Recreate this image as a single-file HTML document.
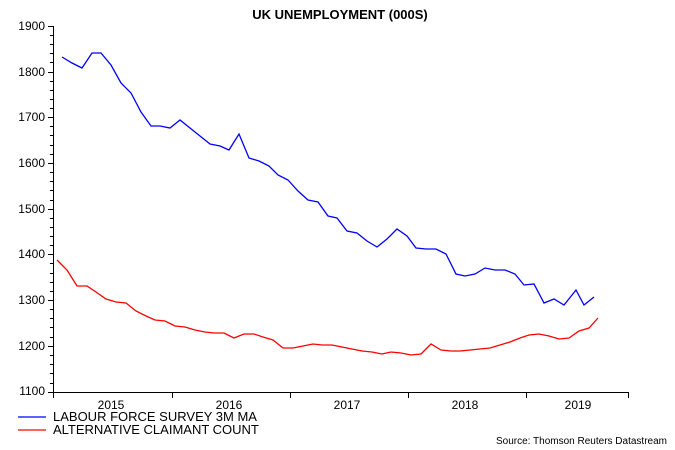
<!DOCTYPE html>
<html><head><meta charset="utf-8"><style>body{margin:0;background:#fff}svg{display:block;font-family:"Liberation Sans",Arial,sans-serif}</style></head><body>
<svg width="675" height="450" viewBox="0 0 675 450">
<text x="340" y="19" text-anchor="middle" font-size="13" font-weight="bold">UK UNEMPLOYMENT (000S)</text>
<g font-size="12" text-anchor="end">
<text x="45" y="30">1900</text><text x="45" y="76">1800</text><text x="45" y="121">1700</text><text x="45" y="167">1600</text><text x="45" y="213">1500</text><text x="45" y="258">1400</text><text x="45" y="304">1300</text><text x="45" y="350">1200</text><text x="45" y="395">1100</text>
</g>
<g stroke="#000" stroke-width="1">
<line x1="53.5" y1="26" x2="53.5" y2="393"/>
<line x1="53" y1="392.5" x2="629" y2="392.5"/>
<path d="M48 26.5h5M48 72.5h5M48 117.5h5M48 163.5h5M48 209.5h5M48 254.5h5M48 300.5h5M48 346.5h5M48 392.5h5M50 35.5h3M50 44.5h3M50 53.5h3M50 62.5h3M50 81.5h3M50 90.5h3M50 99.5h3M50 108.5h3M50 126.5h3M50 135.5h3M50 145.5h3M50 154.5h3M50 172.5h3M50 181.5h3M50 190.5h3M50 200.5h3M50 218.5h3M50 227.5h3M50 236.5h3M50 245.5h3M50 263.5h3M50 273.5h3M50 282.5h3M50 291.5h3M50 309.5h3M50 318.5h3M50 327.5h3M50 337.5h3M50 355.5h3M50 364.5h3M50 373.5h3M50 383.5h3"/>
<path d="M53.5 392v6M172.5 392v6M290.5 392v6M408.5 392v6M526.5 392v6M628.5 392v6"/>
</g>
<g font-size="12" text-anchor="middle">
<text x="111" y="409">2015</text><text x="229" y="409">2016</text><text x="347" y="409">2017</text><text x="465" y="409">2018</text><text x="578" y="409">2019</text>
</g>
<polyline fill="none" stroke="#0000ff" stroke-width="1.3" points="62,57 72,63 82,68 92,53 101,53 111,65 121,83 131,93 141,112 151,126 160,126 170,128 180,120 190,128 200,136 210,144 220,146 229,150 239,134 249,158 259,161 269,166 278,175 288,180 298,191 308,200 318,202 328,216 337,218 347,231 357,233 367,241 377,247 387,239 397,229 407,236 416,248 426,249 436,249 446,254 456,274 465,276 475,274 485,268 495,270 505,270 515,274 524,285 534,284 544,303 554,299 564,305 576,290 584,305 594,297"/>
<polyline fill="none" stroke="#ff0000" stroke-width="1.3" points="57,260 67,270 77,286 87,286 96,292 106,299 116,302 126,303 136,311 146,316 155,320 165,321 175,326 185,327 195,330 205,332 214,333 224,333 234,338 244,334 254,334 263,337 273,340 283,348 293,348 303,346 313,344 322,345 332,345 342,347 352,349 362,351 372,352 382,354 391,352 401,353 411,355 421,354 431,344 441,350 451,351 460,351 470,350 480,349 490,348 500,345 510,342 520,338 529,335 539,334 549,336 559,339 569,338 579,331 589,328 598,318"/>
<line x1="18" y1="417" x2="46" y2="417" stroke="#0000ff" stroke-width="1.3"/>
<line x1="18" y1="430" x2="46" y2="430" stroke="#ff0000" stroke-width="1.3"/>
<g font-size="13"><text x="53" y="421">LABOUR FORCE SURVEY 3M MA</text><text x="53" y="434">ALTERNATIVE CLAIMANT COUNT</text></g>
<text x="667" y="444" font-size="10" text-anchor="end">Source: Thomson Reuters Datastream</text>
</svg>
</body></html>
